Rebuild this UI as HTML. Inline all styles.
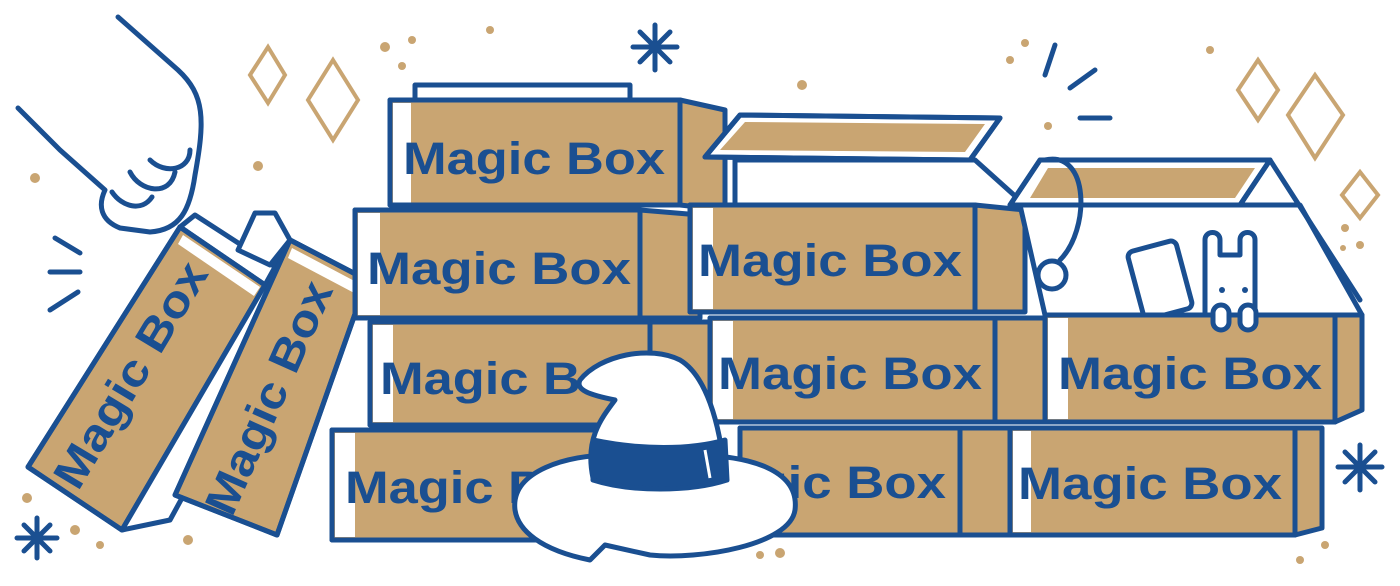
<!DOCTYPE html>
<html><head><style>html,body{margin:0;padding:0;background:#fff;width:1400px;height:586px;overflow:hidden}</style></head>
<body>
<svg width="1400" height="586" viewBox="0 0 1400 586" xmlns="http://www.w3.org/2000/svg" font-family="Liberation Sans, sans-serif" font-weight="bold">
<defs>
<style>
.s{stroke:#1a4f91;stroke-width:5;stroke-linejoin:round;stroke-linecap:round}
.t{fill:#c9a572}.w{fill:#fff}.n{fill:none}
.tx{fill:#1a4f91;font-size:45px;font-family:"Liberation Sans",sans-serif;font-weight:bold}
.g{fill:none;stroke:#c9a572;stroke-width:4}
</style>
</defs>
<g fill="#c9a572">
<circle cx="35" cy="178" r="5"/><circle cx="258" cy="166" r="5"/><circle cx="385" cy="47" r="5"/><circle cx="412" cy="40" r="4"/><circle cx="402" cy="66" r="4"/><circle cx="490" cy="30" r="4"/><circle cx="802" cy="85" r="5"/><circle cx="1025" cy="43" r="4"/><circle cx="1010" cy="60" r="4"/><circle cx="1048" cy="126" r="4"/><circle cx="1210" cy="50" r="4"/><circle cx="1345" cy="228" r="4"/><circle cx="1360" cy="245" r="4"/><circle cx="1343" cy="248" r="3"/><circle cx="27" cy="498" r="5"/><circle cx="75" cy="530" r="5"/><circle cx="100" cy="545" r="4"/><circle cx="188" cy="540" r="5"/><circle cx="760" cy="555" r="4"/><circle cx="780" cy="553" r="5"/><circle cx="1325" cy="545" r="4"/><circle cx="1300" cy="560" r="4"/>
</g>
<g class="g">
<polygon points="268,47 285,75 268,103 250,75"/><polygon points="333,60 358,100 333,140 308,100"/>
<polygon points="1258,60 1278,90 1258,120 1238,90"/><polygon points="1315,75 1343,115 1315,158 1288,115"/><polygon points="1360,172 1378,195 1360,218 1342,195"/>
</g>
<g class="s n">
<path d="M655,25v45M633,47h44M640,32l30,30M670,32l-30,30"/>
<path d="M1360,445v45M1338,467h44M1345,452l30,30M1375,452l-30,30"/>
<path d="M37,518v40M17,538h40M24,525l26,26M50,525l-26,26"/>
<path d="M1055,45l-10,30M1095,70l-25,18M1110,118h-30"/>
<path d="M55,238l25,15M50,272h30M50,310l28,-18"/>
</g>
<path class="s w" d="M118,17 L178,70 C205,95 205,120 195,175 C190,210 180,230 150,232 L120,228 C100,220 98,205 105,190 L60,150 L18,108"/>
<path class="s n" d="M112,192c10,15 30,20 40,5M130,172c10,20 40,25 45,0M150,160c15,15 40,10 40,-10"/>
<g>
<polygon class="s w" points="180,227 265,285 280,270 195,215"/>
<polygon class="s t" points="180,227 265,285 122,530 28,467"/>
<polygon class="w" points="183,235 260,287 254,296 178,244"/>
<polygon class="s n" points="180,227 265,285 122,530 28,467"/>
<text class="tx" transform="translate(78,492) rotate(-59)" textLength="255" lengthAdjust="spacingAndGlyphs">Magic Box</text>
<polygon class="s w" points="238,250 255,213 275,213 290,240 270,265"/>
<polygon class="s w" points="265,285 290,240 367,280 350,300"/>
<polygon class="s w" points="122,530 265,285 290,300 170,520"/>
<polygon class="s t" points="290,240 367,280 277,535 175,495"/>
<polygon class="w" points="292,248 362,285 358,295 288,258"/>
<polygon class="s n" points="290,240 367,280 277,535 175,495"/>
<text class="tx" transform="translate(232,518) rotate(-66)" textLength="250" lengthAdjust="spacingAndGlyphs">Magic Box</text>
</g>
<g>
<rect class="s w" x="415" y="85" width="215" height="15"/>
<polygon class="s t" points="680,100 725,110 725,210 680,205"/>
<rect class="s t" x="390" y="100" width="290" height="105"/>
<rect class="w" x="393" y="103" width="18" height="100"/>
<rect class="s n" x="390" y="100" width="290" height="105"/>
<text class="tx" x="403" y="174" textLength="262" lengthAdjust="spacingAndGlyphs">Magic Box</text>

<polygon class="s t" points="640,210 700,215 700,318 640,318"/>
<rect class="s t" x="355" y="210" width="285" height="108"/>
<rect class="w" x="358" y="213" width="22" height="102"/>
<rect class="s n" x="355" y="210" width="285" height="108"/>
<text class="tx" x="367" y="284" textLength="264" lengthAdjust="spacingAndGlyphs">Magic Box</text>

<polygon class="s t" points="650,322 712,322 712,425 650,425"/>
<rect class="s t" x="370" y="322" width="280" height="103"/>
<rect class="w" x="373" y="325" width="20" height="97"/>
<rect class="s n" x="370" y="322" width="280" height="103"/>
<text class="tx" x="380" y="394" textLength="262" lengthAdjust="spacingAndGlyphs">Magic Box</text>

<rect class="s t" x="332" y="430" width="270" height="110"/>
<rect class="w" x="335" y="433" width="20" height="104"/>
<rect class="s n" x="332" y="430" width="270" height="110"/>
<text class="tx" x="345" y="503" textLength="262" lengthAdjust="spacingAndGlyphs">Magic Box</text>
</g>
<g>
<polygon class="s w" points="735,160 975,160 1025,205 1020,312 735,205"/>
<polygon class="s w" points="705,157 740,115 1000,118 970,160"/>
<polygon class="t" points="720,150 745,122 985,124 965,152"/>
<polygon class="s n" points="705,157 740,115 1000,118 970,160"/>
<polygon class="s t" points="975,205 1025,210 1025,312 975,312"/>
<rect class="s t" x="690" y="205" width="285" height="107"/>
<rect class="w" x="693" y="208" width="20" height="101"/>
<rect class="s n" x="690" y="205" width="285" height="107"/>
<text class="tx" x="698" y="276" textLength="264" lengthAdjust="spacingAndGlyphs">Magic Box</text>

<polygon class="s t" points="995,318 1045,318 1045,422 995,422"/>
<rect class="s t" x="710" y="318" width="285" height="104"/>
<rect class="w" x="713" y="321" width="20" height="98"/>
<rect class="s n" x="710" y="318" width="285" height="104"/>
<text class="tx" x="718" y="389" textLength="264" lengthAdjust="spacingAndGlyphs">Magic Box</text>

<polygon class="s t" points="960,428 1010,428 1010,535 960,535"/>
<rect class="s t" x="740" y="428" width="220" height="107"/>
<rect class="s n" x="740" y="428" width="220" height="107"/>
<text class="tx" x="682" y="498" textLength="264" lengthAdjust="spacingAndGlyphs">Magic Box</text>
</g>
<g>
<polygon class="s w" points="1020,205 1045,315 1335,315 1362,315 1300,205"/>
<polygon class="s w" points="1010,205 1040,160 1270,160 1240,205"/>
<polygon class="t" points="1030,198 1048,168 1255,168 1235,198"/>
<polygon class="s n" points="1010,205 1040,160 1270,160 1240,205"/>
<path class="s n" d="M1270,160 L1360,300"/>
<path class="s n" d="M1045,160 C1090,150 1090,230 1060,260"/>
<circle class="s w" cx="1052" cy="275" r="14"/>
<rect class="s w" x="1135" y="245" width="50" height="70" rx="6" transform="rotate(-15 1160 280)"/>
<path class="s w" d="M1205,315 V240 c0,-10 15,-10 15,0 v15 h20 v-15 c0,-10 15,-10 15,0 V315"/>
<circle fill="#1a4f91" cx="1222" cy="290" r="3"/><circle fill="#1a4f91" cx="1245" cy="290" r="3"/>
<polygon class="s t" points="1335,315 1362,315 1362,410 1335,422"/>
<rect class="s t" x="1045" y="315" width="290" height="107"/>
<rect class="w" x="1048" y="318" width="20" height="101"/>
<rect class="s n" x="1045" y="315" width="290" height="107"/>
<rect class="s w" x="1213" y="305" width="16" height="25" rx="8"/><rect class="s w" x="1240" y="305" width="16" height="25" rx="8"/>
<text class="tx" x="1058" y="389" textLength="264" lengthAdjust="spacingAndGlyphs">Magic Box</text>

<polygon class="s t" points="1295,428 1322,428 1322,528 1295,535"/>
<rect class="s t" x="1010" y="428" width="285" height="107"/>
<rect class="w" x="1013" y="431" width="18" height="101"/>
<rect class="s n" x="1010" y="428" width="285" height="107"/>
<text class="tx" x="1018" y="499" textLength="264" lengthAdjust="spacingAndGlyphs">Magic Box</text>
</g>
<g>
<path class="s w" d="M515,510 C510,470 570,455 610,455 L690,455 C750,455 800,470 795,510 C790,545 700,560 650,555 L605,545 L590,560 C540,550 518,530 515,510Z"/>
<path class="s w" d="M593,478 C585,440 600,420 615,400 C590,395 575,390 580,380 C600,355 650,345 680,360 C705,375 720,420 725,478 C700,490 620,492 593,478Z"/>
<path d="M593,440 C640,450 690,450 725,440 L727,480 C690,492 630,492 593,480Z" fill="#1a4f91" stroke="#1a4f91" stroke-width="5" stroke-linejoin="round"/>
<path d="M705,450 l5,28" stroke="#fff" stroke-width="3"/>
</g>
</svg>
</body></html>
